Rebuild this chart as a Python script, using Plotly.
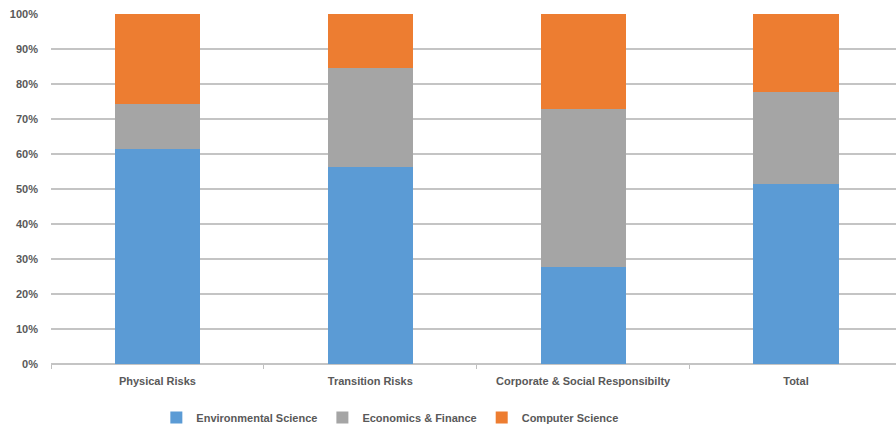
import plotly.graph_objects as go

categories = ["Physical Risks", "Transition Risks", "Corporate & Social Responsibilty", "Total"]
env_sci = [61.4, 56.3, 27.6, 51.4]
econ_fin = [12.9, 28.3, 45.3, 26.4]
comp_sci = [25.7, 15.4, 27.1, 22.2]
y_ticks = [0, 10, 20, 30, 40, 50, 60, 70, 80, 90, 100]

FONT = "Liberation Sans"
TXT = "#595959"

fig = go.Figure()
for name, vals, col in [
    ("Environmental Science", env_sci, "#5b9bd5"),
    ("Economics & Finance", econ_fin, "#a5a5a5"),
    ("Computer Science", comp_sci, "#ed7d31"),
]:
    fig.add_trace(go.Bar(
        x=categories, y=vals, name=name, width=0.4,
        marker=dict(color=col, line=dict(width=0)),
    ))

fig.update_layout(
    barmode="stack",
    width=896, height=432,
    margin=dict(l=51, r=0, t=14, b=68),
    plot_bgcolor="white", paper_bgcolor="white",
    font=dict(family=FONT, size=11, color=TXT),
    showlegend=True,
    legend=dict(
        orientation="h", x=0.401, xanchor="center", y=-0.154, yanchor="middle",
        font=dict(family=FONT, size=11, color=TXT, weight="bold"),
        itemwidth=30, traceorder="normal",
    ),
    xaxis=dict(
        range=[-0.5, 3.47], tickson="boundaries", ticks="outside", ticklen=4,
        tickcolor="#bfbfbf", showline=False, showgrid=False,
        tickfont=dict(family=FONT, size=11, color=TXT, weight="bold"),
        ticklabelstandoff=9,
    ),
    yaxis=dict(
        range=[0, 100], tickvals=y_ticks, ticktext=[f"{v}%" for v in y_ticks],
        showgrid=True, gridcolor="#c4c4c4", gridwidth=1.5,
        zeroline=True, zerolinecolor="#c4c4c4", zerolinewidth=1.5,
        tickfont=dict(family=FONT, size=11, color=TXT, weight="bold"),
        ticks="", ticklabelstandoff=12,
    ),
)

fig.write_html("out.html")
